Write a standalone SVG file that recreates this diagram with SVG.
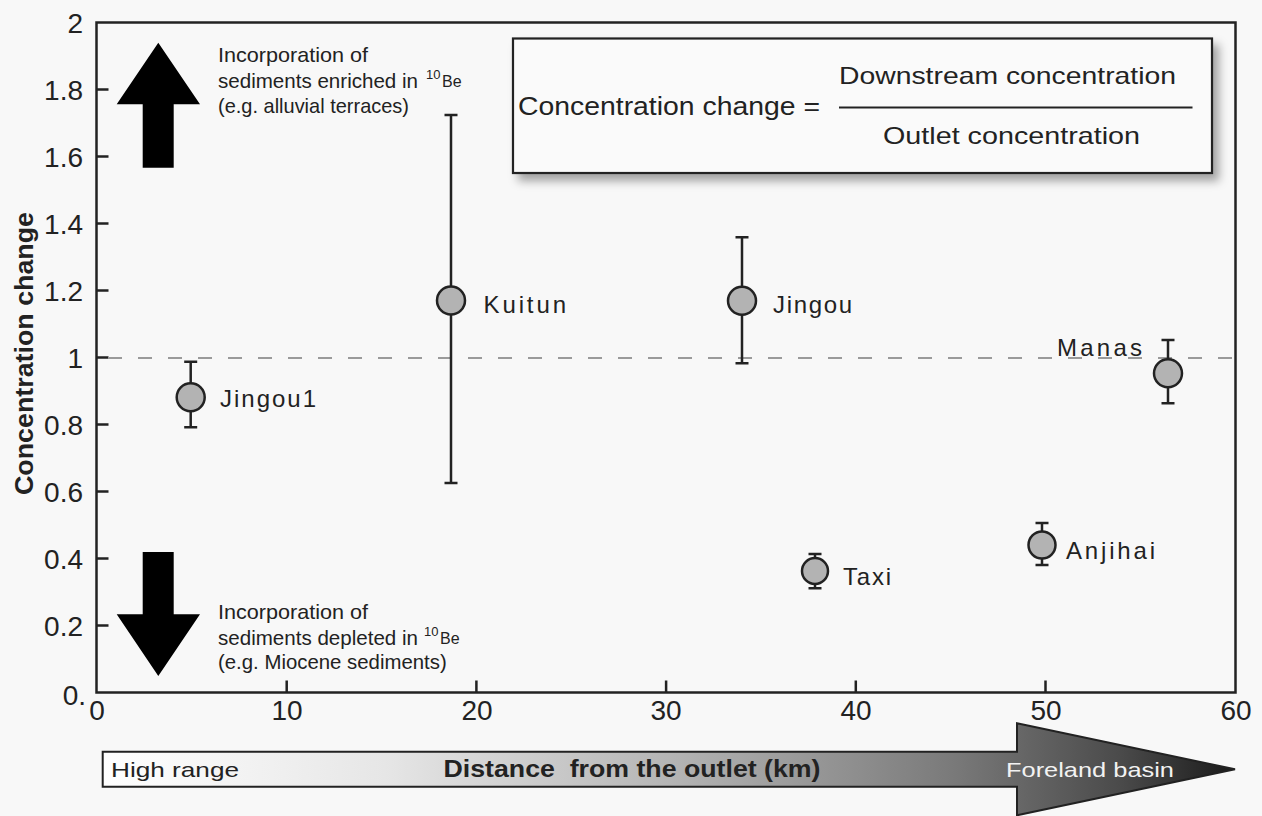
<svg xmlns="http://www.w3.org/2000/svg" width="1262" height="816" viewBox="0 0 1262 816">
<style>
text{font-family:"Liberation Sans",Arial,sans-serif;fill:#222}
.tick{font-size:28px}
.ann{font-size:21px}
.lab{font-size:24px}
.axis{fill:none;stroke:#222;stroke-width:2.5}
.err{fill:none;stroke:#222;stroke-width:2.5}
.pt{fill:#b3b3b3;stroke:#222;stroke-width:2.5}
.bigarrow{fill:#000}
</style>
<defs>
<linearGradient id="gr" x1="102" y1="0" x2="1235" y2="0" gradientUnits="userSpaceOnUse">
<stop offset="0" stop-color="#ffffff"/>
<stop offset="0.25" stop-color="#e6e6e6"/>
<stop offset="0.5" stop-color="#b5b5b5"/>
<stop offset="0.75" stop-color="#7a7a7a"/>
<stop offset="0.9" stop-color="#4a4a4a"/>
<stop offset="1" stop-color="#1a1a1a"/>
</linearGradient>
<filter id="sh" x="-5%" y="-10%" width="115%" height="140%">
<feDropShadow dx="6" dy="7" stdDeviation="5" flood-color="#000" flood-opacity="0.35"/>
</filter>
</defs>
<rect x="0" y="0" width="1262" height="816" fill="#f8f8f8"/>

<g id="axes">
<rect x="96.5" y="22.5" width="1139" height="670" class="axis"/>
<path class="axis" d="M96.5 89.5h12M96.5 156.5h12M96.5 223.5h12M96.5 290.5h12M96.5 357.5h12M96.5 424.5h12M96.5 491.5h12M96.5 558.5h12M96.5 625.5h12"/>
<path class="axis" d="M286.7 692.5v-12M476.4 692.5v-12M666.1 692.5v-12M855.8 692.5v-12M1045.5 692.5v-12"/>
<g class="tick" text-anchor="end">
<text x="83" y="33">2</text>
<text x="83" y="100">1.8</text>
<text x="83" y="167">1.6</text>
<text x="83" y="234">1.4</text>
<text x="83" y="301">1.2</text>
<text x="83" y="368">1</text>
<text x="83" y="435">0.8</text>
<text x="83" y="502">0.6</text>
<text x="83" y="569">0.4</text>
<text x="83" y="636">0.2</text>
<text x="86" y="705">0.</text>
</g>
<g class="tick" text-anchor="middle">
<text x="97" y="720">0</text>
<text x="287" y="720">10</text>
<text x="477" y="720">20</text>
<text x="666" y="720">30</text>
<text x="856" y="720">40</text>
<text x="1046" y="720">50</text>
<text x="1236" y="720">60</text>
</g>
<text transform="translate(33 353.5) rotate(-90)" text-anchor="middle" font-weight="bold" font-size="25" textLength="283" lengthAdjust="spacingAndGlyphs">Concentration change</text>
</g>

<g id="connectors">
<line x1="108" y1="358" x2="1235" y2="358" stroke="#9a9a9a" stroke-width="2" stroke-dasharray="14 16"/>
</g>

<g id="legend">
<rect x="513" y="38.5" width="699" height="134.5" fill="#fafafa" stroke="#222" stroke-width="2.2" filter="url(#sh)"/>
<text x="518" y="115" font-size="25" textLength="302" lengthAdjust="spacingAndGlyphs">Concentration change =</text>
<text x="839" y="84" font-size="24" textLength="337" lengthAdjust="spacingAndGlyphs">Downstream concentration</text>
<line x1="839" y1="107.5" x2="1192.5" y2="107.5" stroke="#222" stroke-width="2"/>
<text x="883" y="144" font-size="24" textLength="257" lengthAdjust="spacingAndGlyphs">Outlet concentration</text>
</g>

<g id="enriched">
<polygon class="bigarrow" points="158.3,42.7 200,104.3 173.7,104.3 173.7,167.7 142.7,167.7 142.7,104.3 116.7,104.3"/>
<text class="ann" x="218" y="61.7" textLength="150" lengthAdjust="spacingAndGlyphs">Incorporation of</text>
<text class="ann" x="218" y="88.3" textLength="200" lengthAdjust="spacingAndGlyphs">sediments enriched in</text>
<text x="426" y="79" font-size="13">10</text>
<text x="442" y="87" font-size="16">Be</text>
<text class="ann" x="218" y="113" textLength="191" lengthAdjust="spacingAndGlyphs">(e.g. alluvial terraces)</text>
</g>

<g id="depleted">
<polygon class="bigarrow" points="142.7,552 173.7,552 173.7,614.3 200,614.3 158.3,676 116.7,614.3 142.7,614.3"/>
<text class="ann" x="218" y="619.3" textLength="150" lengthAdjust="spacingAndGlyphs">Incorporation of</text>
<text class="ann" x="218" y="645" textLength="200" lengthAdjust="spacingAndGlyphs">sediments depleted in</text>
<text x="424" y="636" font-size="13">10</text>
<text x="440" y="644" font-size="16">Be</text>
<text class="ann" x="218" y="669" textLength="228.7" lengthAdjust="spacingAndGlyphs">(e.g. Miocene sediments)</text>
</g>

<g id="node-jingou1">
<path class="err" d="M190.7 361.7V427.3M184.2 361.7h13M184.2 427.3h13"/>
<circle class="pt" cx="190.7" cy="397.3" r="14"/>
<text class="lab" x="220" y="406.7" textLength="96" lengthAdjust="spacing">Jingou1</text>
</g>
<g id="node-kuitun">
<path class="err" d="M451 115V483M444.5 115h13M444.5 483h13"/>
<circle class="pt" cx="451" cy="300.5" r="14"/>
<text class="lab" x="483.5" y="313.3" textLength="82.5" lengthAdjust="spacing">Kuitun</text>
</g>
<g id="node-jingou">
<path class="err" d="M742 237.3V363.3M735.5 237.3h13M735.5 363.3h13"/>
<circle class="pt" cx="742" cy="300.7" r="14"/>
<text class="lab" x="773" y="313.3" textLength="79" lengthAdjust="spacing">Jingou</text>
</g>
<g id="node-taxi">
<path class="err" d="M815 554V588.3M808.5 554h13M808.5 588.3h13"/>
<circle class="pt" cx="815" cy="571" r="13"/>
<text class="lab" x="843" y="585" textLength="48" lengthAdjust="spacing">Taxi</text>
</g>
<g id="node-anjihai">
<path class="err" d="M1042 523V565M1035.5 523h13M1035.5 565h13"/>
<circle class="pt" cx="1042" cy="545" r="13.5"/>
<text class="lab" x="1066" y="559" textLength="89" lengthAdjust="spacing">Anjihai</text>
</g>
<g id="node-manas">
<path class="err" d="M1168 340V403.3M1161.5 340h13M1161.5 403.3h13"/>
<circle class="pt" cx="1168" cy="373.3" r="14"/>
<text class="lab" x="1057" y="356" textLength="85" lengthAdjust="spacing">Manas</text>
</g>

<g id="distance-arrow">
<path d="M102.7 751.7H1017V723.3L1235 769.3L1017 815.3V786.7H102.7Z" fill="url(#gr)" stroke="#222" stroke-width="2"/>
<text x="111" y="776.7" font-size="21" textLength="128" lengthAdjust="spacingAndGlyphs">High range</text>
<text x="443.5" y="776.7" font-size="23" font-weight="bold" xml:space="preserve" textLength="377" lengthAdjust="spacingAndGlyphs">Distance  from the outlet (km)</text>
<text x="1006" y="776.7" font-size="21" style="fill:#f2f2f2" textLength="168" lengthAdjust="spacingAndGlyphs">Foreland basin</text>
</g>
</svg>
